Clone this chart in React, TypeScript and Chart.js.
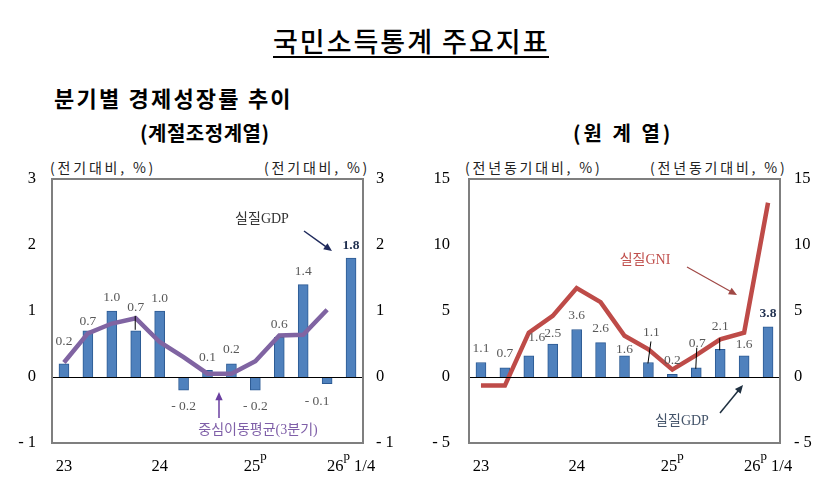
import React, { useEffect, useRef } from "react";
import { Chart, registerables } from "chart.js";

Chart.register(...registerables);

// ---------- data ----------
const categories = ["23.1", "23.2", "23.3", "23.4", "24.1", "24.2", "24.3", "24.4", "25.1", "25.2", "25.3", "25.4", "26.1"];
const tickLabels = ["23", "", "", "", "24", "", "", "", "25^p", "", "", "", "26^p 1/4"];

// 계절조정계열 (전기대비, %)
const saGdp = [0.2, 0.7, 1.0, 0.7, 1.0, -0.2, 0.1, 0.2, -0.2, 0.6, 1.4, -0.1, 1.8];
const saMovingAvg = [0.22, 0.66, 0.81, 0.89, 0.53, 0.3, 0.05, 0.05, 0.24, 0.63, 0.64, 1.02, null];
const saTicks = { min: -1, max: 3, step: 1 };

// 원계열 (전년동기대비, %)
const origGdp = [1.1, 0.7, 1.6, 2.5, 3.6, 2.6, 1.6, 1.1, 0.2, 0.7, 2.1, 1.6, 3.8];
const origGni = [-0.65, -0.65, 3.36, 4.63, 6.74, 5.67, 3.13, 2.1, 0.56, 1.65, 2.85, 3.36, 13.2];
const origTicks = { min: -5, max: 15, step: 5 };

// ---------- styles ----------
const SERIF = "'Liberation Serif', 'Noto Sans CJK KR', serif";
const KR = "'Noto Sans CJK KR', sans-serif";
const BAR_FILL = "#4F81BD";
const BAR_EDGE = "#2C5A93";

type LabelCfg = { dx: number; dy: number; leader?: [number, number] };

// label offsets (styling only)
const saLabelCfg: LabelCfg[] = [
  { dx: 0, dy: -9 }, { dx: 0, dy: 4 }, { dx: 0, dy: -1 }, { dx: 0, dy: -10, leader: [8, 22] },
  { dx: 0, dy: 0 }, { dx: 0, dy: 0 }, { dx: 0, dy: 0 }, { dx: 0, dy: -1 }, { dx: 0, dy: 0 },
  { dx: 0, dy: 0 }, { dx: 0, dy: 0 }, { dx: -10, dy: 2 }, { dx: 0, dy: 0 },
];
const origLabelCfg: LabelCfg[] = [
  { dx: 0, dy: -1 }, { dx: 0, dy: -1 }, { dx: 8, dy: -5 }, { dx: 0, dy: 2 }, { dx: 0, dy: -1 },
  { dx: 0, dy: -1 }, { dx: 0, dy: 7 }, { dx: 3, dy: -17, leader: [9, 31] }, { dx: 0, dy: -1 },
  { dx: 1, dy: -11, leader: [4, 25] }, { dx: 0, dy: -10, leader: [12, 24] }, { dx: 0, dy: 2 }, { dx: 0, dy: 0 },
];

const fmt = (v: number) => (v < 0 ? "- " + Math.abs(v).toFixed(1) : v.toFixed(1));
const tickFmt = (v: number | string) => {
  const n = Number(v);
  return n < 0 ? "- " + Math.abs(n) : String(n);
};

type Annot = {
  texts: { t: string; x: number; y: number; color: string }[];
  arrows: { x1: number; y1: number; x2: number; y2: number; color: string; w: number; head: number }[];
};

function drawArrow(ctx: CanvasRenderingContext2D, a: Annot["arrows"][number]) {
  const ang = Math.atan2(a.y2 - a.y1, a.x2 - a.x1);
  ctx.save();
  ctx.strokeStyle = a.color;
  ctx.fillStyle = a.color;
  ctx.lineWidth = a.w;
  ctx.beginPath();
  ctx.moveTo(a.x1, a.y1);
  ctx.lineTo(a.x2 - Math.cos(ang) * a.head * 0.8, a.y2 - Math.sin(ang) * a.head * 0.8);
  ctx.stroke();
  ctx.beginPath();
  ctx.moveTo(a.x2, a.y2);
  ctx.lineTo(a.x2 - a.head * Math.cos(ang - 0.42), a.y2 - a.head * Math.sin(ang - 0.42));
  ctx.lineTo(a.x2 - a.head * Math.cos(ang + 0.42), a.y2 - a.head * Math.sin(ang + 0.42));
  ctx.closePath();
  ctx.fill();
  ctx.restore();
}

function makePlugin(labelCfg: LabelCfg[], annot: Annot) {
  return {
    id: "custom",
    afterDatasetsDraw(chart: any) {
      const { ctx, chartArea } = chart;
      const y = chart.scales.y;
      const x = chart.scales.x;
      ctx.save();
      // zero line
      const y0 = Math.round(y.getPixelForValue(0)) + 0.5;
      ctx.strokeStyle = "#000";
      ctx.lineWidth = 1;
      ctx.beginPath();
      ctx.moveTo(chartArea.left, y0);
      ctx.lineTo(chartArea.right, y0);
      ctx.stroke();
      // frame
      ctx.strokeStyle = "#7F7F7F";
      ctx.lineWidth = 2;
      ctx.strokeRect(chartArea.left, chartArea.top, chartArea.right - chartArea.left, chartArea.bottom - chartArea.top);

      // bar labels
      const meta = chart.getDatasetMeta(1);
      const data = chart.data.datasets[1].data as number[];
      ctx.textAlign = "center";
      ctx.textBaseline = "middle";
      meta.data.forEach((el: any, i: number) => {
        const v = data[i];
        const cfg = labelCfg[i];
        const last = i === data.length - 1;
        ctx.font = (last ? "bold " : "") + "13.5px " + SERIF;
        ctx.fillStyle = last ? "#1F2F4F" : "#595959";
        const lx = el.x + cfg.dx;
        const ly = v >= 0 ? el.y - 13 + cfg.dy : el.y + 16 + cfg.dy;
        ctx.fillText(fmt(v), lx, ly);
        if (cfg.leader) {
          ctx.strokeStyle = "#000";
          ctx.lineWidth = 1;
          ctx.beginPath();
          ctx.moveTo(lx - 0.5, ly + cfg.leader[0]);
          ctx.lineTo(el.x - 0.5, ly + cfg.leader[1]);
          ctx.stroke();
        }
      });

      // x tick labels with superscript p
      const ty = chartArea.bottom + 24;
      tickLabels.forEach((lab, i) => {
        if (!lab) return;
        const px = x.getPixelForValue(i);
        const parts = lab.split("^p");
        ctx.font = "16.5px " + SERIF;
        const supFont = "13px " + SERIF;
        const w0 = ctx.measureText(parts[0]).width;
        const w2 = parts[1] ? ctx.measureText(parts[1]).width : 0;
        ctx.font = supFont;
        const ws = parts.length > 1 ? ctx.measureText("p").width : 0;
        const total = w0 + ws + w2;
        let cx = px - total / 2;
        ctx.textAlign = "left";
        ctx.fillStyle = "#000";
        ctx.font = "16.5px " + SERIF;
        ctx.fillText(parts[0], cx, ty);
        cx += w0;
        if (parts.length > 1) {
          ctx.font = supFont;
          ctx.fillText("p", cx, ty - 10);
          cx += ws;
          ctx.font = "16.5px " + SERIF;
          ctx.fillText(parts[1], cx, ty);
        }
      });

      // annotations
      ctx.textAlign = "center";
      annot.texts.forEach((t) => {
        ctx.font = "14px " + SERIF;
        ctx.fillStyle = t.color;
        ctx.fillText(t.t, t.x, t.y);
      });
      annot.arrows.forEach((a) => drawArrow(ctx, a));
      ctx.restore();
    },
  };
}

function axisCfg(t: { min: number; max: number; step: number }, pos: "left" | "right", width: number, pad: number) {
  return {
    type: "linear" as const,
    position: pos,
    min: t.min,
    max: t.max,
    grid: { display: false, drawTicks: false },
    border: { display: false },
    ticks: {
      stepSize: t.step,
      padding: pad,
      color: "#000",
      font: { family: SERIF, size: 16.5 },
      callback: tickFmt,
    },
    afterFit: (s: any) => {
      s.width = width;
    },
  };
}

type Props = {
  lineData: (number | null)[];
  barData: number[];
  lineColor: string;
  ticks: { min: number; max: number; step: number };
  axisW: [number, number];
  pads: [number, number];
  labelCfg: LabelCfg[];
  annot: Annot;
};

function ChartBox(p: Props) {
  const ref = useRef<HTMLCanvasElement>(null);
  useEffect(() => {
    if (!ref.current) return;
    const chart = new Chart(ref.current, {
      type: "bar",
      data: {
        labels: categories,
        datasets: [
          {
            type: "line",
            data: p.lineData,
            borderColor: p.lineColor,
            borderWidth: 4.5,
            pointRadius: 0,
            tension: 0,
            spanGaps: false,
            order: 0,
            borderJoinStyle: "miter",
            yAxisID: "y",
          } as any,
          {
            type: "bar",
            data: p.barData,
            backgroundColor: BAR_FILL,
            borderColor: BAR_EDGE,
            borderWidth: 1,
            barThickness: 10,
            order: 1,
            yAxisID: "y",
          } as any,
        ],
      },
      options: {
        animation: false,
        responsive: false,
        maintainAspectRatio: false,
        layout: { padding: { top: 29, left: 0, right: 0, bottom: 0 } },
        plugins: { legend: { display: false }, tooltip: { enabled: false } },
        scales: {
          x: {
            type: "category",
            offset: true,
            grid: { display: false, drawTicks: false },
            border: { display: false },
            ticks: { display: false },
            afterFit: (s: any) => {
              s.height = 47;
            },
          },
          y: axisCfg(p.ticks, "left", p.axisW[0], p.pads[0]),
          y2: { ...axisCfg(p.ticks, "right", p.axisW[1], p.pads[1]) },
        },
      },
      plugins: [makePlugin(p.labelCfg, p.annot)],
    });
    return () => chart.destroy();
  }, []);
  return <canvas ref={ref} width={p.axisW[0] + p.axisW[1] + 311} height={340} style={{ display: "block" }} />;
}

const abs = (l: number, t: number, extra: React.CSSProperties = {}): React.CSSProperties => ({
  position: "absolute",
  left: l,
  top: t,
  whiteSpace: "nowrap",
  lineHeight: 1,
  ...extra,
});

export default function App() {
  useEffect(() => {
    document.body.style.margin = "0";
  }, []);
  const unitStyle: React.CSSProperties = { fontFamily: KR, fontSize: 14, color: "#222", letterSpacing: 2.8 };
  return (
    <div style={{ position: "absolute", left: 0, top: 0, width: 835, height: 504, background: "#fff", overflow: "hidden" }}>
      <div style={abs(273, 27, { fontFamily: KR, fontSize: 27, fontWeight: 500, letterSpacing: 2, borderBottom: "2px solid #000", paddingBottom: 2 })}>
        국민소득통계 주요지표
      </div>
      <div style={abs(54, 86, { fontFamily: KR, fontSize: 22, fontWeight: 700, letterSpacing: 2.2 })}>분기별 경제성장률 추이</div>
      <div style={abs(140, 123, { fontFamily: KR, fontSize: 20, fontWeight: 700, letterSpacing: 0.5 })}>(계절조정계열)</div>
      <div style={abs(573, 123, { fontFamily: KR, fontSize: 20, fontWeight: 700, letterSpacing: 3 })}>(원 계 열)</div>

      <div style={abs(50, 160, unitStyle)}>(전기대비, %)</div>
      <div style={abs(264, 160, unitStyle)}>(전기대비, %)</div>
      <div style={abs(465, 160, unitStyle)}>(전년동기대비, %)</div>
      <div style={abs(650, 160, unitStyle)}>(전년동기대비, %)</div>

      <div style={abs(0, 150)}>
        <ChartBox
          lineData={saMovingAvg}
          barData={saGdp}
          lineColor="#8064A2"
          ticks={saTicks}
          axisW={[52, 52]}
          pads={[16, 13]}
          labelCfg={saLabelCfg}
          annot={{
            texts: [
              { t: "실질GDP", x: 262, y: 69, color: "#333" },
              { t: "중심이동평균(3분기)", x: 258, y: 280, color: "#7F5FA8" },
            ],
            arrows: [
              { x1: 304, y1: 81, x2: 332, y2: 101, color: "#1F2A5C", w: 1.5, head: 9 },
              { x1: 219, y1: 268, x2: 219, y2: 242, color: "#6A3FA0", w: 1.5, head: 9 },
            ],
          }}
        />
      </div>
      <div style={abs(415, 150)}>
        <ChartBox
          lineData={origGni}
          barData={origGdp}
          lineColor="#BE4B48"
          ticks={origTicks}
          axisW={[54, 54]}
          pads={[19, 14]}
          labelCfg={origLabelCfg}
          annot={{
            texts: [
              { t: "실질GNI", x: 230, y: 110, color: "#C0504D" },
              { t: "실질GDP", x: 267, y: 271, color: "#44546A" },
            ],
            arrows: [
              { x1: 272, y1: 117, x2: 322, y2: 145, color: "#A04845", w: 1.2, head: 9 },
              { x1: 305, y1: 263, x2: 328, y2: 235, color: "#1F3040", w: 1.5, head: 9 },
            ],
          }}
        />
      </div>
    </div>
  );
}
